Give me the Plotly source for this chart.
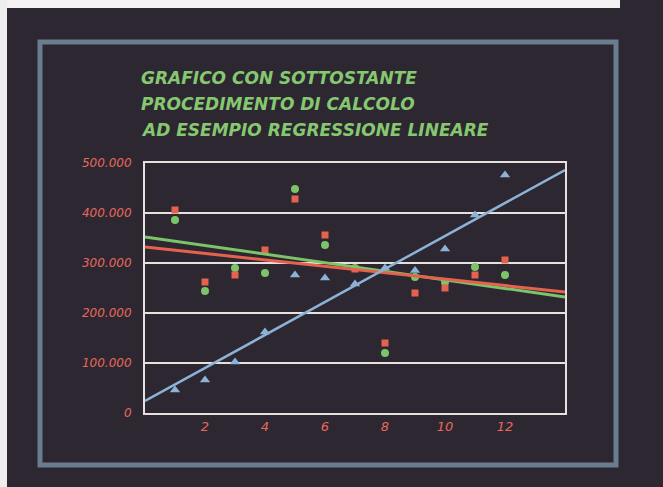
import plotly.graph_objects as go

# ---- data ----
x_vals = [1, 2, 3, 4, 5, 6, 7, 8, 9, 10, 11, 12]
serie_rossa = [406000, 262000, 276000, 326000, 428000, 356000, 288000, 140000, 240000, 250000, 276000, 306000]
serie_verde = [386000, 244000, 290000, 280000, 448000, 336000, 290000, 120000, 272000, 262000, 292000, 276000]
serie_blu = [46000, 66000, 102000, 162000, 276000, 270000, 258000, 290000, 285000, 328000, 396000, 476000]

# regression lines: value at x start and x end
trend_x = [0, 14]
trend_rossa = [332000, 242000]
trend_verde = [352000, 232000]
trend_blu = [24000, 486000]

y_ticks = [0, 100000, 200000, 300000, 400000, 500000]
y_labels = ["0", "100.000", "200.000", "300.000", "400.000", "500.000"]
x_ticks = [2, 4, 6, 8, 10, 12]
x_labels = ["2", "4", "6", "8", "10", "12"]

title_lines = ["GRAFICO CON SOTTOSTANTE", "PROCEDIMENTO DI CALCOLO", "AD ESEMPIO REGRESSIONE LINEARE"]

# ---- styling ----
BG = "#2c2731"
RED = "#e4624e"
GREEN = "#7cc46a"
BLUE = "#8db2d8"
WHITE = "#e6e1dc"
FRAME = "#6b7c8e"
TICK = "#e8675c"
TITLE = "#86c870"

W, H = 663, 487
L, R, T, B = 145, 98, 163, 74
pw, ph = W - L - R, H - T - B


def px(xp):
    return (xp - L) / pw


def py(yp):
    return (H - B - yp) / ph


fig = go.Figure()

fig.add_trace(go.Scatter(x=x_vals, y=serie_blu, mode="markers",
                         marker=dict(symbol="triangle-up", size=9, color=BLUE), showlegend=False))
fig.add_trace(go.Scatter(x=x_vals, y=serie_verde, mode="markers",
                         marker=dict(symbol="circle", size=8, color=GREEN), showlegend=False))
fig.add_trace(go.Scatter(x=x_vals, y=serie_rossa, mode="markers",
                         marker=dict(symbol="square", size=7, color=RED), showlegend=False))

fig.add_trace(go.Scatter(x=trend_x, y=trend_verde, mode="lines",
                         line=dict(color=GREEN, width=3), showlegend=False))
fig.add_trace(go.Scatter(x=trend_x, y=trend_rossa, mode="lines",
                         line=dict(color=RED, width=3), showlegend=False))
fig.add_trace(go.Scatter(x=trend_x, y=trend_blu, mode="lines",
                         line=dict(color=BLUE, width=2.5), showlegend=False))

shapes = [
    # white strips of the photo edge
    dict(type="rect", xref="paper", yref="paper", x0=px(0), x1=px(620), y0=py(8), y1=py(0),
         fillcolor="#f4f2f2", line=dict(width=0), layer="below"),
    dict(type="rect", xref="paper", yref="paper", x0=px(0), x1=px(7), y0=py(H), y1=py(0),
         fillcolor="#efeeee", line=dict(width=0), layer="below"),
    # outer frame
    dict(type="rect", xref="paper", yref="paper", x0=px(40), x1=px(616), y0=py(465), y1=py(42),
         line=dict(color=FRAME, width=5), layer="below"),
]

annotations = []
for i, (txt, yp) in enumerate(zip(title_lines, [78, 104, 130])):
    annotations.append(dict(text=txt, xref="paper", yref="paper", x=px(139), y=py(yp),
                            xanchor="left", yanchor="middle", showarrow=False,
                            font=dict(family="DejaVu Sans", size=17, color=TITLE,
                                      weight="bold", style="italic")))

fig.update_layout(
    width=W, height=H,
    margin=dict(l=L, r=R, t=T, b=B, pad=0),
    paper_bgcolor=BG, plot_bgcolor=BG,
    shapes=shapes, annotations=annotations,
    showlegend=False,
)

fig.update_xaxes(range=[0, 14], tickvals=x_ticks, ticktext=x_labels, showgrid=False,
                 zeroline=False, showline=True, linecolor=WHITE, linewidth=2, mirror=True,
                 ticks="", ticklabelstandoff=0,
                 tickfont=dict(family="DejaVu Sans", size=13, color=TICK, style="italic"))
fig.update_yaxes(range=[0, 500000], tickvals=y_ticks, ticktext=y_labels, showgrid=True,
                 gridcolor=WHITE, gridwidth=2, zeroline=False, showline=True, linecolor=WHITE,
                 linewidth=2, mirror=True, ticks="", ticklabelstandoff=9,
                 tickfont=dict(family="DejaVu Sans", size=12, color=TICK, style="italic"))

fig.write_html("out.html")
